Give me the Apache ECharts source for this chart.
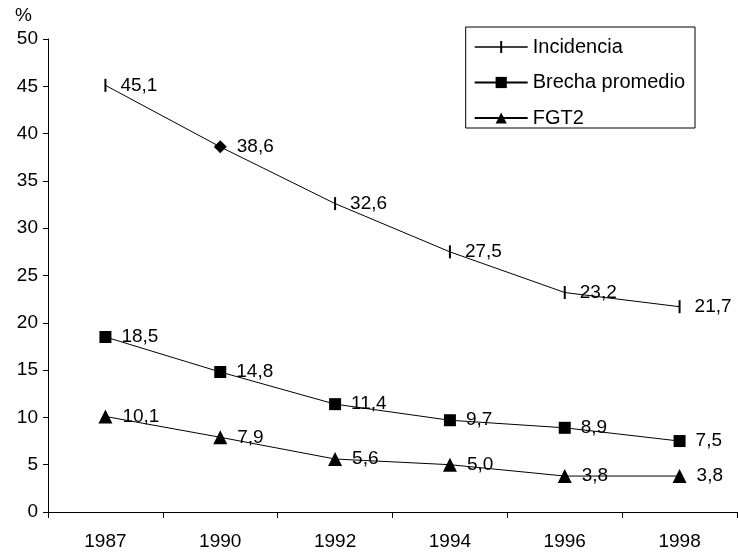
<!DOCTYPE html>
<html>
<head>
<meta charset="utf-8">
<script src="https://cdn.jsdelivr.net/npm/echarts@6/dist/echarts.min.js"></script>
<style>
  html, body { margin: 0; padding: 0; background: #fff; }
  #chart { width: 738px; height: 557px; }
</style>
</head>
<body>
<div id="chart"></div>
<script>
// datos
const years = ['1987', '1990', '1992', '1994', '1996', '1998']
const incidencia = [45.1, 38.6, 32.6, 27.5, 23.2, 21.7]
const brecha = [18.5, 14.8, 11.4, 9.7, 8.9, 7.5]
const fgt2 = [10.1, 7.9, 5.6, 5.0, 3.8, 3.8]

const font = 'Liberation Sans'
const fs = 19
// etiqueta con coma decimal
const fmt = p => p.value.toFixed(1).replace('.', ',')

const makeLabel = dist => ({
  show: true,
  position: 'right',
  distance: dist,
  color: '#000',
  fontSize: fs,
  fontFamily: font,
  formatter: fmt
})

const chart = echarts.init(document.getElementById('chart'))
chart.setOption({
  animation: false,
  textStyle: { fontFamily: font, color: '#000' },
  title: {
    text: '%',
    left: 10,
    top: 1,
    textStyle: { fontSize: fs, fontWeight: 'normal', color: '#000', fontFamily: font }
  },
  grid: { left: 48, right: 1, top: 39, bottom: 45 },
  legend: {
    orient: 'vertical',
    right: 43,
    top: 27,
    padding: [10, 10, 0, 8],
    itemWidth: 53,
    itemHeight: 14,
    itemGap: 15.5,
    borderColor: '#000',
    borderWidth: 1,
    textStyle: { fontSize: 20, color: '#000', fontFamily: font },
    data: [
      { name: 'Incidencia', icon: 'path://M0,6.2 L53,6.2 L53,7.8 L0,7.8 Z M25.5,1 L27.5,1 L27.5,13 L25.5,13 Z' },
      'Brecha promedio',
      'FGT2'
    ]
  },
  xAxis: {
    type: 'category',
    data: years,
    boundaryGap: true,
    axisLine: { lineStyle: { color: '#000', width: 1 } },
    axisTick: { show: true, length: 6, lineStyle: { color: '#000' } },
    axisLabel: { color: '#000', fontSize: fs, margin: 20, fontFamily: font }
  },
  yAxis: {
    type: 'value',
    min: 0,
    max: 50,
    interval: 5,
    splitLine: { show: false },
    axisLine: { show: true, lineStyle: { color: '#000', width: 1 } },
    axisTick: { show: true, length: 5, lineStyle: { color: '#000' } },
    axisLabel: { color: '#000', fontSize: fs, margin: 10, fontFamily: font }
  },
  series: [
    {
      name: 'Incidencia',
      type: 'line',
      data: incidencia.map((v, i) => i === 1 ? { value: v, symbol: 'diamond', symbolSize: 13, label: { distance: 10 } } : v),
      symbol: 'rect',
      symbolSize: [2, 13],
      showAllSymbol: true,
      lineStyle: { color: '#000', width: 1 },
      itemStyle: { color: '#000' },
      label: makeLabel(14)
    },
    {
      name: 'Brecha promedio',
      type: 'line',
      data: brecha,
      symbol: 'rect',
      symbolSize: 12,
      lineStyle: { color: '#000', width: 1 },
      itemStyle: { color: '#000' },
      label: makeLabel(10)
    },
    {
      name: 'FGT2',
      type: 'line',
      data: fgt2,
      symbol: 'triangle',
      symbolSize: 14,
      lineStyle: { color: '#000', width: 1 },
      itemStyle: { color: '#000' },
      label: makeLabel(10)
    }
  ]
})
</script>
</body>
</html>
